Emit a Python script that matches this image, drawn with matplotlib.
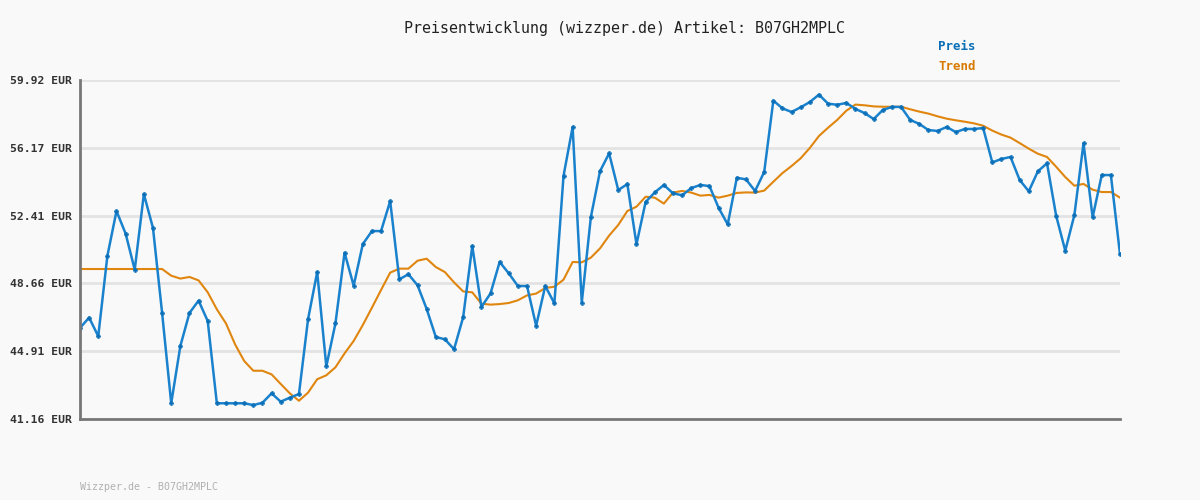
import matplotlib
matplotlib.use("Agg")
import matplotlib.pyplot as plt

# DATA (EUR)
TITLE = "Preisentwicklung (wizzper.de) Artikel: B07GH2MPLC"
FOOTER = "Wizzper.de - B07GH2MPLC"
Y_TICKS = [41.16, 44.91, 48.66, 52.41, 56.17, 59.92]

preis = [
    46.20, 46.77, 45.74, 50.18, 52.67, 51.42, 49.42, 53.61, 51.73, 47.03,
    42.03, 45.20, 47.03, 47.71, 46.58, 42.03, 42.03, 42.03, 42.03, 41.93,
    42.06, 42.58, 42.12, 42.34, 42.54, 46.69, 49.29, 44.07, 46.45, 50.36,
    48.54, 50.84, 51.56, 51.56, 53.22, 48.89, 49.17, 48.56, 47.25, 45.70,
    45.57, 45.02, 46.79, 50.73, 47.36, 48.11, 49.85, 49.22, 48.52, 48.52,
    46.32, 48.52, 47.56, 54.61, 57.32, 47.60, 52.34, 54.87, 55.86, 53.83,
    54.16, 50.83, 53.17, 53.70, 54.11, 53.65, 53.54, 53.94, 54.11, 54.05,
    52.85, 51.93, 54.51, 54.42, 53.78, 54.83, 58.78, 58.35, 58.15, 58.41,
    58.70, 59.11, 58.61, 58.55, 58.65, 58.32, 58.09, 57.76, 58.26, 58.43,
    58.43, 57.71, 57.49, 57.15, 57.10, 57.32, 57.04, 57.21, 57.21, 57.26,
    55.36, 55.55, 55.66, 54.39, 53.76, 54.87, 55.31, 52.41, 50.47, 52.45,
    56.42, 52.32, 54.66, 54.66, 50.27,
]

trend = [
    49.46, 49.46, 49.46, 49.46, 49.46, 49.46, 49.46, 49.46, 49.46, 49.46,
    49.09, 48.93, 49.02, 48.83, 48.17, 47.23, 46.45, 45.29, 44.37, 43.83,
    43.83, 43.63, 43.10, 42.58, 42.17, 42.62, 43.36, 43.58, 44.02, 44.79,
    45.48, 46.36, 47.32, 48.30, 49.26, 49.48, 49.48, 49.92, 50.03, 49.57,
    49.29, 48.72, 48.22, 48.17, 47.54, 47.49, 47.52, 47.58, 47.73, 48.00,
    48.10, 48.41, 48.48, 48.87, 49.85, 49.83, 50.09, 50.60, 51.31, 51.90,
    52.67, 52.91, 53.46, 53.41, 53.08, 53.69, 53.78, 53.69, 53.52, 53.56,
    53.41, 53.52, 53.67, 53.70, 53.69, 53.80, 54.29, 54.77, 55.16, 55.59,
    56.16, 56.82, 57.28, 57.71, 58.22, 58.56, 58.52, 58.46, 58.44, 58.44,
    58.44, 58.30, 58.17, 58.06, 57.91, 57.78, 57.69, 57.61, 57.52, 57.39,
    57.12, 56.90, 56.73, 56.43, 56.12, 55.84, 55.66, 55.12, 54.55, 54.07,
    54.17, 53.85, 53.72, 53.72, 53.41,
]

BG = "#f9f9f9"
BLUE = "#1a82cc"
BLUE_DARK = "#0a6fb8"
ORANGE = "#e0860f"
MONO = "DejaVu Sans Mono"

fig = plt.figure(figsize=(12, 5), dpi=100, facecolor=BG)
ax = fig.add_axes([80 / 1200, 1 - 419 / 500, 1040 / 1200, 339 / 500])
ax.set_facecolor(BG)

x = list(range(len(preis)))
ax.plot(x, trend, color=ORANGE, lw=1.5, zorder=3)
ax.plot(x, preis, color=BLUE, lw=1.8, zorder=4,
        marker="P", markersize=3.2, markerfacecolor=BLUE_DARK,
        markeredgecolor=BLUE_DARK, markeredgewidth=0.3)

ax.set_xlim(0, len(preis) - 1)
ax.set_ylim(Y_TICKS[0], Y_TICKS[-1])
ax.set_yticks(Y_TICKS)
ax.set_yticklabels([f"{v:.2f} EUR" for v in Y_TICKS], fontfamily=MONO,
                   fontsize=8.2, fontweight="bold", color="#333333")
ax.set_xticks([])
ax.tick_params(axis="y", length=0, pad=5.8)
ax.grid(axis="y", color="#e3e3e3", lw=2, zorder=0)

for side in ["top", "right"]:
    ax.spines[side].set_visible(False)
for side in ["left", "bottom"]:
    ax.spines[side].set_color("#777777")
    ax.spines[side].set_linewidth(2)
    ax.spines[side].set_zorder(5)

fig.text(624 / 1200, 1 - 28 / 500, TITLE, ha="center", va="center",
         fontfamily=MONO, fontsize=10.8, color="#222222")
fig.text(957 / 1200, 1 - 47 / 500, "Preis", ha="center", va="center",
         fontfamily=MONO, fontsize=9, fontweight="bold", color=BLUE_DARK)
fig.text(957 / 1200, 1 - 67 / 500, "Trend", ha="center", va="center",
         fontfamily=MONO, fontsize=9, fontweight="bold", color="#d97a00")
fig.text(80 / 1200, 1 - 487 / 500, FOOTER, ha="left", va="center",
         fontfamily=MONO, fontsize=7.2, color="#b0b0b0")

fig.savefig("out.png", dpi=100, facecolor=BG)
